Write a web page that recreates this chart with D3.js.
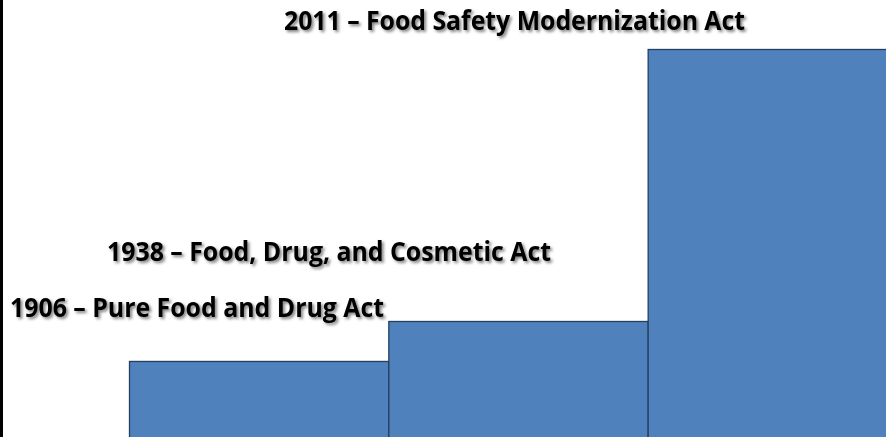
<!DOCTYPE html>
<html>
<head>
<meta charset="utf-8">
<script src="https://cdn.jsdelivr.net/npm/d3@7"></script>
<style>
  body { margin: 0; background: #fff; overflow: hidden; }
  svg { display: block; }
</style>
</head>
<body>
<svg id="chart"></svg>
<script>
var years = ["1906", "1938", "2011"];
var acts = ["Pure Food and Drug Act", "Food, Drug, and Cosmetic Act", "Food Safety Modernization Act"];
var values = [19.6, 29.9, 100];

var screen = {width: 886, height: 437};

// label placement (start x, baseline y, fitted width)
var labelPos = [
    {x: 10, y: 317, w: 374},
    {x: 107, y: 261, w: 444},
    {x: 284, y: 30, w: 461}
];

var svg = d3.select("#chart")
    .attr("width", screen.width)
    .attr("height", screen.height);

var defs = svg.append("defs");
defs.append("filter")
    .attr("id", "shadow")
    .attr("x", "-5%").attr("y", "-30%")
    .attr("width", "115%").attr("height", "170%")
    .append("feDropShadow")
    .attr("dx", 2).attr("dy", 2)
    .attr("stdDeviation", 1.4)
    .attr("flood-color", "#000")
    .attr("flood-opacity", 0.5);

var xScale = d3.scaleBand()
    .domain(years)
    .range([129, 907])
    .paddingInner(0)
    .paddingOuter(0);

var yScale = d3.scaleLinear()
    .domain([0, 100])
    .range([437, 49]);

// left border line
svg.append("line")
    .attr("x1", 1.5).attr("x2", 1.5)
    .attr("y1", 0).attr("y2", screen.height)
    .attr("stroke", "#000")
    .attr("stroke-width", 3);

svg.append("g")
    .selectAll("rect")
    .data(years)
    .enter()
    .append("rect")
    .attr("x", function(d) { return xScale(d) + 0.5; })
    .attr("y", function(d, i) { return yScale(values[i]) + 0.5; })
    .attr("width", xScale.bandwidth())
    .attr("height", function(d, i) { return yScale(0) - yScale(values[i]) + 5; })
    .attr("fill", "#4f81bd")
    .attr("stroke", "#243f60")
    .attr("stroke-width", 1.3);

svg.append("g")
    .selectAll("text")
    .data(years)
    .enter()
    .append("text")
    .attr("x", function(d, i) { return labelPos[i].x; })
    .attr("y", function(d, i) { return labelPos[i].y; })
    .attr("textLength", function(d, i) { return labelPos[i].w; })
    .attr("lengthAdjust", "spacingAndGlyphs")
    .attr("font-family", "'Liberation Sans Narrow', 'Open Sans', 'DejaVu Sans', sans-serif")
    .attr("font-weight", "bold")
    .attr("font-size", 26)
    .attr("fill", "#000")
    .attr("filter", "url(#shadow)")
    .text(function(d, i) { return d + " \u2013 " + acts[i]; });
</script>
</body>
</html>
